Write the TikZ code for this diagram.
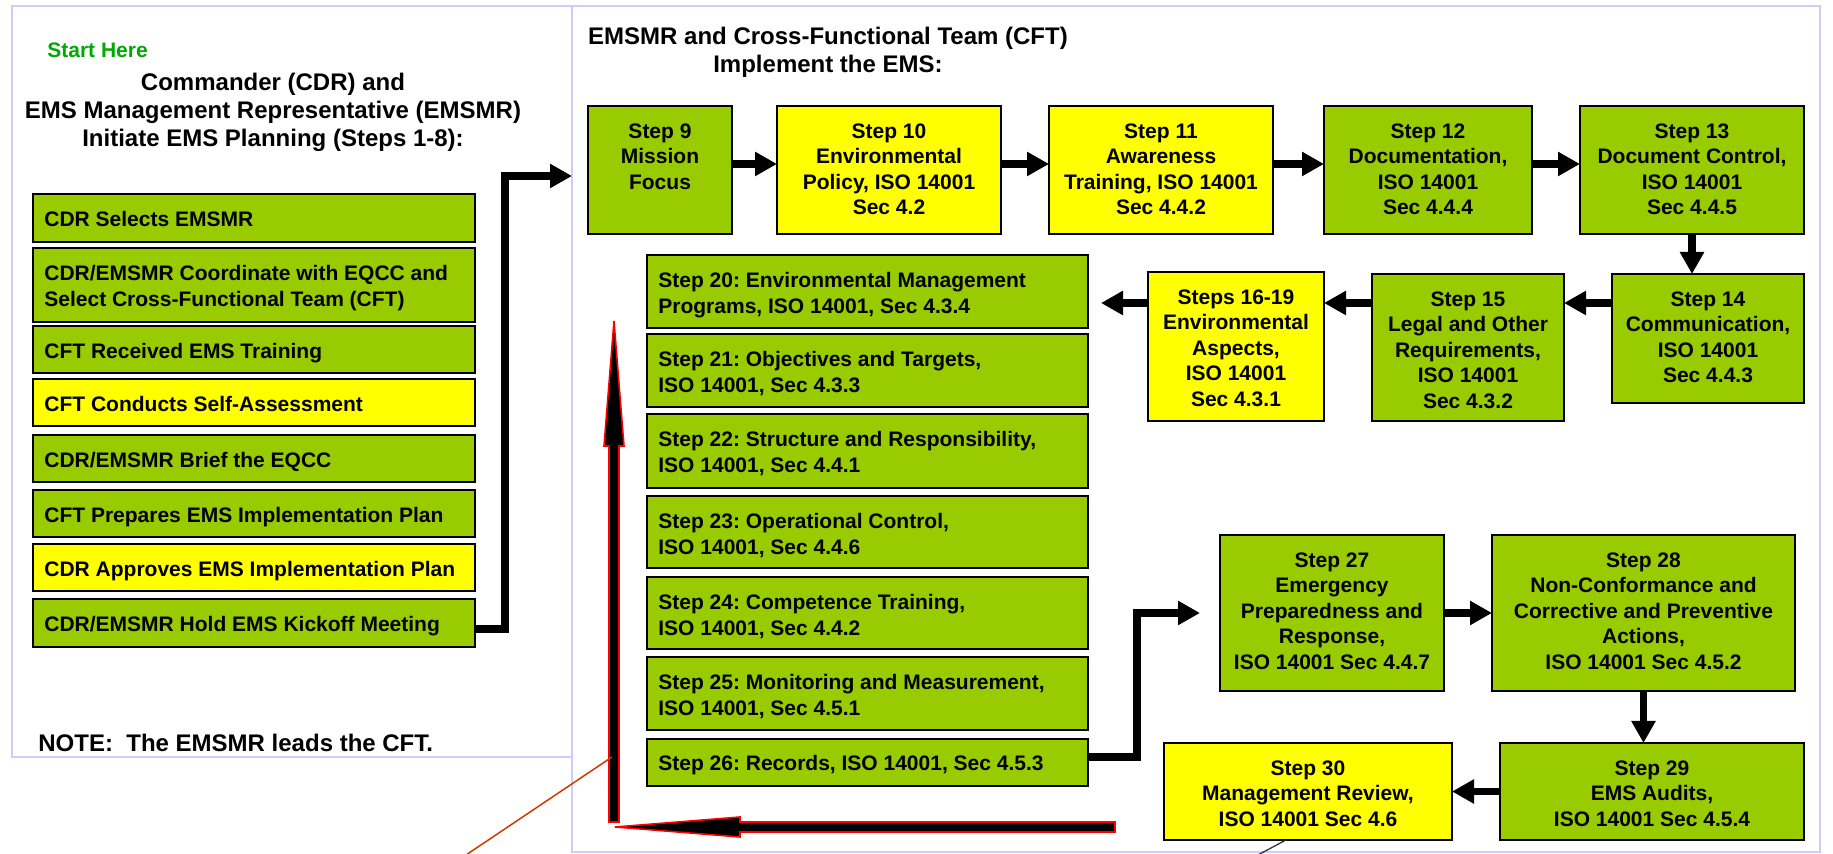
\documentclass[tikz,border=0pt]{standalone}
\usepackage{fontspec}
\setmainfont{Liberation Sans}
\usetikzlibrary{arrows.meta,fit}
\definecolor{boxgreen}{RGB}{153,204,0}
\definecolor{boxyellow}{RGB}{255,255,0}
\definecolor{framecol}{RGB}{204,204,255}
\definecolor{startgreen}{RGB}{0,170,0}
\definecolor{calloutred}{RGB}{204,60,0}
\frenchspacing
\begin{document}
\begin{tikzpicture}[x=0.5pt,y=-0.5pt,
  frame/.style={draw=framecol, line width=0.75pt, inner sep=0pt, outer sep=0pt},
  stepbox/.style={draw=black, line width=1pt, inner sep=0pt, outer sep=0pt},
  gbox/.style={stepbox, fill=boxgreen},
  ybox/.style={stepbox, fill=boxyellow},
  txtc/.style={inner sep=0pt, align=center, font=\bfseries\fontsize{10.5}{12.8}\selectfont, anchor=north},
  txtl/.style={inner sep=0pt, align=left, font=\bfseries\fontsize{10.5}{12.8}\selectfont, anchor=north west},
  titlesty/.style={inner sep=0pt, align=center, font=\bfseries\fontsize{12}{14}\selectfont, anchor=north},
  arr/.style={line width=3.75pt, -{Triangle[length=11pt,width=11.5pt]}},
  blockarr/.style={draw=red, fill=black, line width=0.8pt, line join=miter},
]
\useasboundingbox (0,0) rectangle (1833,854);
\fill[white] (0,0) rectangle (1833,854);

% frames
\node[frame, fit={(12,6) (572,757)}] (lframe) {};
\node[frame, fit={(572,6) (1820,852)}] (rframe) {};

% left panel texts
\node[inner sep=0pt, anchor=west, text=startgreen, font=\bfseries\fontsize{10.5}{12.8}\selectfont] (start) at (47,50) {Start Here};
\node[titlesty] (ltitle) at (273,73) {Commander (CDR) and\\EMS Management Representative (EMSMR)\\Initiate EMS Planning (Steps 1-8):};
\node[inner sep=0pt, anchor=west, font=\bfseries\fontsize{12}{14}\selectfont] (note) at (38,743) {NOTE:\ \ The EMSMR leads the CFT.};

% left boxes
\node[gbox, fit={(33,194) (475,242)}] (b1) {};
\node[gbox, fit={(33,248) (475,322)}] (b2) {};
\node[gbox, fit={(33,326) (475,373)}] (b3) {};
\node[ybox, fit={(33,379) (475,426)}] (b4) {};
\node[gbox, fit={(33,435) (475,482)}] (b5) {};
\node[gbox, fit={(33,490) (475,537)}] (b6) {};
\node[ybox, fit={(33,544) (475,591)}] (b7) {};
\node[gbox, fit={(33,599) (475,647)}] (b8) {};
\node[txtl] (tb1) at ([xshift=5.5pt,yshift=-8.5pt]b1.north west) {CDR Selects EMSMR};
\node[txtl] (tb2) at ([xshift=5.5pt,yshift=-8.5pt]b2.north west) {CDR/EMSMR Coordinate with EQCC and\\Select Cross-Functional Team (CFT)};
\node[txtl] (tb3) at ([xshift=5.5pt,yshift=-8.5pt]b3.north west) {CFT Received EMS Training};
\node[txtl] (tb4) at ([xshift=5.5pt,yshift=-8.5pt]b4.north west) {CFT Conducts Self-Assessment};
\node[txtl] (tb5) at ([xshift=5.5pt,yshift=-8.5pt]b5.north west) {CDR/EMSMR Brief the EQCC};
\node[txtl] (tb6) at ([xshift=5.5pt,yshift=-8.5pt]b6.north west) {CFT Prepares EMS Implementation Plan};
\node[txtl] (tb7) at ([xshift=5.5pt,yshift=-8.5pt]b7.north west) {CDR Approves EMS Implementation Plan};
\node[txtl] (tb8) at ([xshift=5.5pt,yshift=-8.5pt]b8.north west) {CDR/EMSMR Hold EMS Kickoff Meeting};

% right panel title
\node[titlesty] (rtitle) at (828,27) {EMSMR and Cross-Functional Team (CFT)\\Implement the EMS:};

% top row
\node[gbox, fit={(588,106) (732,234)}] (s9) {};
\node[ybox, fit={(777,106) (1001,234)}] (s10) {};
\node[ybox, fit={(1049,106) (1273,234)}] (s11) {};
\node[gbox, fit={(1324,106) (1532,234)}] (s12) {};
\node[gbox, fit={(1580,106) (1804,234)}] (s13) {};
\node[txtc] (t9) at ([yshift=-8.5pt]s9.north) {Step 9\\Mission\\Focus};
\node[txtc] (t10) at ([yshift=-8.5pt]s10.north) {Step 10\\Environmental\\Policy, ISO 14001\\Sec 4.2};
\node[txtc] (t11) at ([yshift=-8.5pt]s11.north) {Step 11\\Awareness\\Training, ISO 14001\\Sec 4.4.2};
\node[txtc] (t12) at ([yshift=-8.5pt]s12.north) {Step 12\\Documentation,\\ISO 14001\\Sec 4.4.4};
\node[txtc] (t13) at ([yshift=-8.5pt]s13.north) {Step 13\\Document Control,\\ISO 14001\\Sec 4.4.5};

% second row
\node[gbox, fit={(1612,274) (1804,403)}] (s14) {};
\node[gbox, fit={(1372,274) (1564,421)}] (s15) {};
\node[ybox, fit={(1148,272) (1324,421)}] (s16) {};
\node[txtc] (t14) at ([yshift=-8.5pt]s14.north) {Step 14\\Communication,\\ISO 14001\\Sec 4.4.3};
\node[txtc] (t15) at ([yshift=-8.5pt]s15.north) {Step 15\\Legal and Other\\Requirements,\\ISO 14001\\Sec 4.3.2};
\node[txtc] (t16) at ([yshift=-8.5pt]s16.north) {Steps 16-19\\Environmental\\Aspects,\\ISO 14001\\Sec 4.3.1};

% stacked boxes
\node[gbox, fit={(647,255) (1088,328)}] (s20) {};
\node[gbox, fit={(647,334) (1088,407)}] (s21) {};
\node[gbox, fit={(647,414) (1088,488)}] (s22) {};
\node[gbox, fit={(647,496) (1088,568)}] (s23) {};
\node[gbox, fit={(647,577) (1088,649)}] (s24) {};
\node[gbox, fit={(647,657) (1088,730)}] (s25) {};
\node[gbox, fit={(647,739) (1088,786)}] (s26) {};
\node[txtl] (t20) at ([xshift=5.5pt,yshift=-8.5pt]s20.north west) {Step 20: Environmental Management\\Programs, ISO 14001, Sec 4.3.4};
\node[txtl] (t21) at ([xshift=5.5pt,yshift=-8.5pt]s21.north west) {Step 21: Objectives and Targets,\\ISO 14001, Sec 4.3.3};
\node[txtl] (t22) at ([xshift=5.5pt,yshift=-8.5pt]s22.north west) {Step 22: Structure and Responsibility,\\ISO 14001, Sec 4.4.1};
\node[txtl] (t23) at ([xshift=5.5pt,yshift=-8.5pt]s23.north west) {Step 23: Operational Control,\\ISO 14001, Sec 4.4.6};
\node[txtl] (t24) at ([xshift=5.5pt,yshift=-8.5pt]s24.north west) {Step 24: Competence Training,\\ISO 14001, Sec 4.4.2};
\node[txtl] (t25) at ([xshift=5.5pt,yshift=-8.5pt]s25.north west) {Step 25: Monitoring and Measurement,\\ISO 14001, Sec 4.5.1};
\node[txtl] (t26) at ([xshift=5.5pt,yshift=-8pt]s26.north west) {Step 26: Records, ISO 14001, Sec 4.5.3};

% third row
\node[gbox, fit={(1220,535) (1444,691)}] (s27) {};
\node[gbox, fit={(1492,535) (1795,691)}] (s28) {};
\node[gbox, fit={(1500,743) (1804,840)}] (s29) {};
\node[ybox, fit={(1164,743) (1452,840)}] (s30) {};
\node[txtc] (t27) at ([yshift=-8.5pt]s27.north) {Step 27\\Emergency\\Preparedness and\\Response,\\ISO 14001 Sec 4.4.7};
\node[txtc] (t28) at ([yshift=-8.5pt]s28.north) {Step 28\\Non-Conformance and\\Corrective and Preventive\\Actions,\\ISO 14001 Sec 4.5.2};
\node[txtc] (t29) at ([yshift=-8.5pt]s29.north) {Step 29\\EMS Audits,\\ISO 14001 Sec 4.5.4};
\node[txtc] (t30) at ([yshift=-8.5pt]s30.north) {Step 30\\Management Review,\\ISO 14001 Sec 4.6};

% connectors
\coordinate (r1) at (0,164);
\coordinate (r2) at (0,303);
\coordinate (k1) at (0,629);
\coordinate (k2) at (0,176);
\coordinate (kx) at (505,0);
\coordinate (c1) at (0,757);
\coordinate (cx) at (1137,0);
\coordinate (s20r) at ([xshift=6.5pt]s20.east);
\coordinate (s27l) at ([xshift=-10pt]s27.west);

\draw[arr] (b8.east |- k1) -| (kx |- k2) -- (rframe.west |- k2);
\draw[arr] (s9.east |- r1) -- (s10.west |- r1);
\draw[arr] (s10.east |- r1) -- (s11.west |- r1);
\draw[arr] (s11.east |- r1) -- (s12.west |- r1);
\draw[arr] (s12.east |- r1) -- (s13.west |- r1);
\draw[arr] (s13.south) -- (s13.south |- s14.north);
\draw[arr] (s14.west |- r2) -- (s15.east |- r2);
\draw[arr] (s15.west |- r2) -- (s16.east |- r2);
\draw[arr] (s16.west |- r2) -- (s20r |- r2);
\draw[arr] (s26.east |- c1) -| (cx |- s27.west) -- (s27l);
\draw[arr] (s27.east) -- (s28.west);
\draw[arr] (s28.south) -- (s28.south |- s29.north);
\draw[arr] (s29.west) -- (s30.east);

% red block arrows
\draw[blockarr] (609,822) -- (609,446) -- (604,446) -- (614,321) -- (624,446) -- (619,446) -- (619,822) -- cycle;
\draw[blockarr] (1115,822) -- (740,822) -- (740,817) -- (615,827) -- (740,837) -- (740,832) -- (1115,832) -- cycle;

% thin callout lines
\coordinate (rl1) at (612,757);
\coordinate (rl2) at (466,855);
\draw[calloutred, line width=0.75pt] (rl1) -- (rl2);
\coordinate (bl1) at (1286,840);
\coordinate (bl2) at (1256,856);
\draw[black!85, line width=0.6pt] (bl1) -- (bl2);
\end{tikzpicture}
\end{document}
